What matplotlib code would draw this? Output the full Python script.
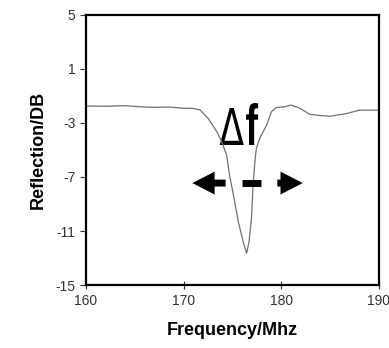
import matplotlib.pyplot as plt
from matplotlib.font_manager import FontProperties
from matplotlib.patches import PathPatch
from matplotlib.textpath import TextPath
from matplotlib.transforms import Affine2D, ScaledTranslation

# frequency (MHz) and reflection (dB)
freq = [160.0, 162.0, 164.0, 165.5, 166.9, 168.5, 170.1, 171.0, 171.7, 172.5,
        173.4, 173.9, 174.4, 174.7, 175.1, 175.6, 176.1, 176.45, 176.7, 176.95,
        177.1, 177.3, 177.45, 177.8, 178.5, 179.0, 179.5, 180.4, 181.0, 181.9,
        182.9, 184.0, 185.0, 186.7, 188.0, 190.0]
refl = [-1.74, -1.76, -1.72, -1.80, -1.84, -1.82, -1.91, -1.92, -2.04, -2.65,
        -3.64, -4.38, -5.37, -6.85, -8.33, -10.3, -11.8, -12.65, -11.8, -10.06,
        -7.8, -5.86, -4.88, -4.13, -3.15, -2.16, -1.86, -1.79, -1.67, -1.9,
        -2.35, -2.45, -2.5, -2.3, -2.05, -2.05]

xticks = [160, 170, 180, 190]
yticks = [5, 1, -3, -7, -11, -15]

plt.rcParams['font.family'] = ['Liberation Sans', 'DejaVu Sans']

fig = plt.figure(figsize=(3.89, 3.48), dpi=100)
ax = fig.add_axes([0.221, 0.181, 0.753, 0.776])

ax.plot(freq, refl, color='#707070', lw=0.9)

ax.set_xlim(160, 190)
ax.set_ylim(-15, 5)
ax.set_xticks(xticks)
ax.set_yticks(yticks)
ax.set_yticklabels([str(v) for v in yticks])
ax.tick_params(axis='both', labelsize=10, colors='#333333', length=4, width=0.8)
ax.tick_params(axis='x', direction='inout', length=6)
for s in ax.spines.values():
	s.set_linewidth(1.6)

ax.set_xlabel('Frequency/Mhz', fontsize=13, fontweight='bold', labelpad=10)
ax.set_ylabel('Reflection/DB', fontsize=13, fontweight='bold', labelpad=6)


def glyph(s, x, y, w, h, prop):
	# draw a glyph squeezed to w x h pixels, bottom-left at data point (x, y)
	tp = TextPath((0, 0), s, size=10, prop=prop)
	bb = tp.get_extents()
	tr = Affine2D().translate(-bb.x0, -bb.y0).scale(w / bb.width, h / bb.height)
	tr = tr + ScaledTranslation(x, y, ax.transData)
	ax.add_patch(PathPatch(tp, transform=tr, color='black', lw=0, clip_on=False))


# delta f label
glyph('Δ', 173.7, -4.63, 24, 37, FontProperties(family='DejaVu Sans'))
glyph('f', 176.4, -4.63, 12, 42, FontProperties(family='Liberation Sans', weight='bold'))

# arrows
arrow = dict(arrowstyle='simple,head_length=1.6,head_width=1.65,tail_width=0.5',
			 lw=0, color='black', shrinkA=0, shrinkB=0, mutation_scale=10)
ax.annotate('', xy=(170.9, -7.45), xytext=(174.3, -7.45), arrowprops=arrow)
ax.annotate('', xy=(182.2, -7.45), xytext=(179.6, -7.45), arrowprops=arrow)
ax.plot([176.0, 177.9], [-7.45, -7.45], color='black', lw=5, solid_capstyle='butt')

fig.savefig('out.png', dpi=100)
